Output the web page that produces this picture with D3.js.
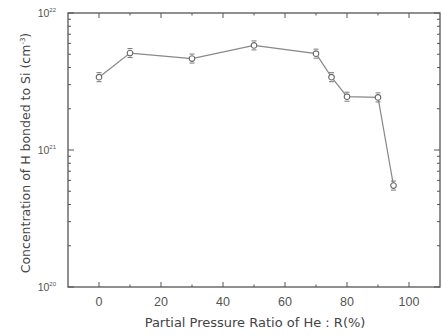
<!DOCTYPE html>
<html><head><meta charset="utf-8">
<script src="https://cdn.jsdelivr.net/npm/d3@7"></script>
<style>body{margin:0;background:#fff;}svg{display:block;font-family:"Liberation Sans",Arial,sans-serif;}</style>
</head><body>
<svg id="c" width="442" height="336"></svg>
<script>
const ratio = [0, 10, 30, 50, 70, 75, 80, 90, 95];
const conc = [3.4e21, 5.1e21, 4.65e21, 5.8e21, 5.05e21, 3.4e21, 2.45e21, 2.42e21, 5.5e20];
const xTicks = [0, 20, 40, 60, 80, 100];
const xMinor = [10, 30, 50, 70, 90];
const yExps = [20, 21, 22];

const svg = d3.select("#c");
const L = 68, R = 440, T = 13, B = 287;
const x = d3.scaleLinear().domain([-10, 110]).range([L, R]);
const y = d3.scaleLog().domain([1e20, 1e22]).range([B, T]);
const col = "#555";

svg.append("rect").attr("x", L).attr("y", T).attr("width", R - L).attr("height", B - T)
  .attr("fill", "none").attr("stroke", col).attr("stroke-width", 1.3);

const g = svg.append("g").attr("stroke", col).attr("stroke-width", 1);
xTicks.forEach(v => {
  g.append("line").attr("x1", x(v)).attr("x2", x(v)).attr("y1", B).attr("y2", B - 5);
  g.append("line").attr("x1", x(v)).attr("x2", x(v)).attr("y1", T).attr("y2", T + 5);
});
xMinor.forEach(v => {
  g.append("line").attr("x1", x(v)).attr("x2", x(v)).attr("y1", B).attr("y2", B - 2.5);
  g.append("line").attr("x1", x(v)).attr("x2", x(v)).attr("y1", T).attr("y2", T + 2.5);
});
const yMinorVals = [];
[20, 21].forEach(e => { for (let k = 2; k <= 9; k++) yMinorVals.push(k * Math.pow(10, e)); });
yMinorVals.forEach(v => {
  g.append("line").attr("x1", L).attr("x2", L + 3).attr("y1", y(v)).attr("y2", y(v));
  g.append("line").attr("x1", R).attr("x2", R - 3).attr("y1", y(v)).attr("y2", y(v));
});
yExps.forEach(e => {
  const v = Math.pow(10, e);
  g.append("line").attr("x1", L).attr("x2", L + 6).attr("y1", y(v)).attr("y2", y(v));
  g.append("line").attr("x1", R).attr("x2", R - 6).attr("y1", y(v)).attr("y2", y(v));
});

const xl = svg.append("g");
xTicks.forEach(v => {
  xl.append("text").attr("x", x(v)).attr("y", 306).attr("text-anchor", "middle")
    .attr("font-size", 12.5).attr("fill", "#555").text(String(v));
});

yExps.forEach(e => {
  const t = svg.append("text").attr("x", 56).attr("y", y(Math.pow(10, e)) + 4)
    .attr("text-anchor", "end").attr("font-size", 10.5).attr("fill", "#555");
  t.append("tspan").text("10");
  t.append("tspan").attr("dy", -5).attr("font-size", 6).text(e);
});

svg.append("text").attr("x", 255).attr("y", 327).attr("text-anchor", "middle")
  .attr("font-family", "DejaVu Sans").attr("font-size", 13).attr("fill", "#444")
  .text("Partial Pressure Ratio of He : R(%)");
const yt = svg.append("text").attr("transform", "translate(30,153) rotate(-90)")
  .attr("text-anchor", "middle").attr("font-family", "DejaVu Sans")
  .attr("font-size", 12.5).attr("fill", "#444");
yt.append("tspan").text("Concentration of H bonded to Si (cm");
yt.append("tspan").attr("dy", -5).attr("font-size", 7).text("-3");
yt.append("tspan").attr("dy", 5).text(")");

const pts = ratio.map((r, i) => [r, conc[i]]);
svg.append("path").datum(pts)
  .attr("d", d3.line().x(d => x(d[0])).y(d => y(d[1])))
  .attr("fill", "none").attr("stroke", "#888").attr("stroke-width", 1.2);

const m = svg.append("g").selectAll("g").data(pts).join("g")
  .attr("transform", d => `translate(${x(d[0])},${y(d[1])})`);
m.append("line").attr("x1", -2.5).attr("x2", 2.5).attr("y1", -4.5).attr("y2", -4.5).attr("stroke", "#777");
m.append("line").attr("x1", -2.5).attr("x2", 2.5).attr("y1", 4.5).attr("y2", 4.5).attr("stroke", "#777");
m.append("circle").attr("r", 2.8).attr("fill", "#fff").attr("stroke", "#666").attr("stroke-width", 1.1);
</script>
</body></html>
